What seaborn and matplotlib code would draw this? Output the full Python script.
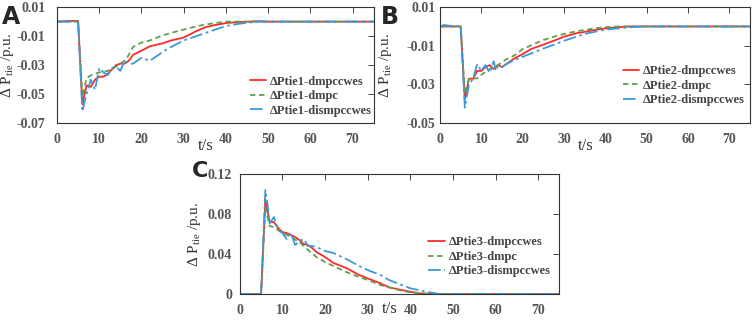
import numpy as np
import pandas as pd
import matplotlib
matplotlib.use("Agg")
import matplotlib.pyplot as plt
import seaborn as sns

sns.set_style("white")
plt.rcParams['font.family'] = ['Liberation Serif', 'DejaVu Serif']
plt.rcParams['mathtext.fontset'] = 'custom'
plt.rcParams['mathtext.rm'] = 'Liberation Serif'
plt.rcParams['mathtext.it'] = 'Liberation Serif'

# ---------------- data ----------------
# Panel A (tie1)
tA_red = [0, 3, 5, 6, 7, 8, 9, 10, 11, 12, 13, 14, 15, 16, 17, 18, 20, 22, 25, 27, 30, 31, 33, 35, 37, 40, 43, 48, 50, 75]
yA_red = [0, 0.0005, 0.0005, -0.057, -0.044, -0.045, -0.040, -0.038, -0.038, -0.036, -0.033, -0.030, -0.029, -0.029,
          -0.027, -0.023, -0.020, -0.017, -0.015, -0.013, -0.011, -0.0095, -0.0065, -0.004, -0.0026, -0.001, -0.0003,
          0.0003, 0, 0]
tA_grn = [0, 5, 6, 7, 8, 9, 10, 12, 14, 16, 17, 18, 20, 22, 25, 28, 30, 32, 35, 38, 40, 75]
yA_grn = [0, 0, -0.052, -0.039, -0.037, -0.036, -0.035, -0.034, -0.031, -0.027, -0.023, -0.0175, -0.0145, -0.013,
          -0.0095, -0.007, -0.0055, -0.004, -0.002, -0.0008, 0, 0]
tA_blu = [0, 5, 6, 7, 8, 9, 10, 11, 12, 13, 14, 15, 16, 17, 18, 19, 20, 22, 24, 26, 28, 30, 33, 35, 38, 40, 43, 46, 48, 75]
yA_blu = [0, 0, -0.062, -0.050, -0.040, -0.047, -0.032, -0.035, -0.037, -0.032, -0.031, -0.034, -0.027, -0.029,
          -0.029, -0.027, -0.025, -0.027, -0.023, -0.019, -0.016, -0.013, -0.010, -0.008, -0.005, -0.003, -0.0015,
          -0.0005, 0, 0]

# Panel B (tie2)
tB_red = [0, 5, 6, 7, 8, 9, 10, 11, 12, 13, 14, 15, 16, 17, 18, 20, 22, 25, 28, 30, 33, 35, 38, 40, 43, 46, 75]
yB_red = [0, 0, -0.0377, -0.027, -0.027, -0.023, -0.023, -0.021, -0.020, -0.022, -0.020, -0.021, -0.0195, -0.018,
          -0.0165, -0.0143, -0.0117, -0.0094, -0.007, -0.0053, -0.0035, -0.0028, -0.0016, -0.001, -0.0004, 0, 0]
tB_grn = [0, 5, 6, 7, 8, 9, 10, 12, 14, 16, 18, 20, 22, 25, 28, 30, 33, 35, 38, 40, 43, 75]
yB_grn = [0, 0, -0.035, -0.027, -0.027, -0.0268, -0.025, -0.022, -0.020, -0.017, -0.015, -0.0117, -0.0098, -0.007,
          -0.005, -0.0039, -0.0025, -0.0018, -0.0009, -0.0004, 0, 0]
tB_blu = [0, 1, 2, 5, 6, 7, 8, 9, 10, 11, 12, 13, 13.5, 14, 15, 16, 18, 20, 22, 25, 28, 30, 33, 35, 38, 40, 43, 46, 50, 75]
yB_blu = [0, 0.0008, 0.0004, 0, -0.042, -0.030, -0.027, -0.0195, -0.023, -0.020, -0.024, -0.018, -0.023, -0.0205,
          -0.021, -0.0195, -0.0174, -0.0157, -0.014, -0.0114, -0.0091, -0.0074, -0.0053, -0.0039, -0.0025, -0.0016,
          -0.001, -0.0004, 0, 0]

# Panel C (tie3)
tC_red = [0, 5, 6, 7, 8, 9, 10, 11, 12, 13, 14, 15, 16, 17, 18, 20, 22, 25, 28, 30, 33, 35, 38, 40, 42, 45, 75]
yC_red = [0, 0, 0.0947, 0.072, 0.072, 0.066, 0.062, 0.061, 0.059, 0.057, 0.054, 0.050, 0.049, 0.046, 0.042, 0.037,
          0.031, 0.026, 0.019, 0.0157, 0.0107, 0.0067, 0.004, 0.0023, 0.0007, 0, 0]
tC_grn = [0, 5, 6, 7, 8, 9, 10, 12, 14, 16, 18, 20, 22, 25, 28, 30, 33, 35, 38, 40, 43, 45, 75]
yC_grn = [0, 0, 0.087, 0.068, 0.067, 0.064, 0.061, 0.057, 0.052, 0.044, 0.037, 0.032, 0.028, 0.022, 0.017, 0.014,
          0.009, 0.0067, 0.0033, 0.0017, 0.0007, 0, 0]
tC_blu = [0, 5, 6, 6.5, 7, 8, 9, 10, 11, 12, 13, 14, 15, 16, 17, 18, 20, 22, 23, 25, 28, 30, 33, 35, 38, 40, 43, 45, 47, 75]
yC_blu = [0, 0, 0.104, 0.090, 0.0707, 0.077, 0.064, 0.061, 0.055, 0.061, 0.049, 0.053, 0.055, 0.048, 0.048, 0.047,
          0.043, 0.041, 0.039, 0.035, 0.028, 0.024, 0.019, 0.014, 0.009, 0.0057, 0.003, 0.0013, 0, 0]

labels_A = ["ΔPtie1-dmpccwes", "ΔPtie1-dmpc", "ΔPtie1-dismpccwes"]
labels_B = ["ΔPtie2-dmpccwes", "ΔPtie2-dmpc", "ΔPtie2-dismpccwes"]
labels_C = ["ΔPtie3-dmpccwes", "ΔPtie3-dmpc", "ΔPtie3-dismpccwes"]

xticks = [0, 10, 20, 30, 40, 50, 60, 70]
yticks_A = [0.01, -0.01, -0.03, -0.05, -0.07]
yticks_B = [0.01, -0.01, -0.03, -0.05]
yticks_C = [0, 0.04, 0.08, 0.12]

# ---------------- style ----------------
RED = "#ff2a2a"
GRN = "#5fa04a"
BLU = "#3a9ad9"
TICKC = "#555555"

fig = plt.figure(figsize=(7.54, 3.24), dpi=100)
axA = fig.add_axes([0.0756, 0.620, 0.420, 0.358])
axB = fig.add_axes([0.5836, 0.620, 0.411, 0.358])
axC = fig.add_axes([0.318, 0.0926, 0.424, 0.370])


def draw(ax, series, labels, yticks, ylim, leg_anchor, xlab_y, ylab_x, ypad):
    styles = [(RED, None), (GRN, (3, 2)), (BLU, (7, 2, 1.5, 2))]
    for (t, y), lab, (c, d) in zip(series, labels, styles):
        df = pd.DataFrame({"t": t, "v": y})
        sns.lineplot(data=df, x="t", y="v", ax=ax, color=c, lw=1.3, label=lab)
        if d is not None:
            ax.lines[-1].set_dashes(d)
    ax.set_xlim(0, 75)
    ax.set_ylim(*ylim)
    ax.set_xticks(xticks)
    ax.set_yticks(yticks)
    ax.set_yticklabels([("%g" % v) if v != 0 else "0" for v in yticks])
    ax.tick_params(direction="in", top=True, right=True, length=4, width=0.7,
                   labelsize=10, labelcolor=TICKC, colors="#444444")
    ax.tick_params(axis="y", pad=ypad)
    ax.tick_params(axis="x", pad=7)
    for lab in ax.get_xticklabels() + ax.get_yticklabels():
        lab.set_fontweight("bold")
    for s in ax.spines.values():
        s.set_color("#333333")
        s.set_linewidth(0.8)
    ax.set_xlabel("t/s", fontsize=12, color="#333333")
    ax.xaxis.set_label_coords(0.47, xlab_y)
    ax.set_ylabel(r"Δ P$_{\mathrm{tie}}$ /p.u.", fontsize=11, color="#333333")
    ax.yaxis.set_label_coords(ylab_x, 0.5)
    leg = ax.legend(loc="upper left", bbox_to_anchor=leg_anchor, frameon=False,
                    handlelength=1.3, handletextpad=0.3, labelspacing=0.2,
                    borderpad=0, borderaxespad=0,
                    prop={"family": "Liberation Serif", "weight": "bold", "size": 9})
    for txt in leg.get_texts():
        txt.set_color("#444444")


draw(axA, [(tA_red, yA_red), (tA_grn, yA_grn), (tA_blu, yA_blu)], labels_A,
     yticks_A, (-0.07, 0.01), (0.61, 0.41), -0.13, -0.13, 8.5)
draw(axB, [(tB_red, yB_red), (tB_grn, yB_grn), (tB_blu, yB_blu)], labels_B,
     yticks_B, (-0.05, 0.01), (0.59, 0.50), -0.13, -0.148, 3.5)
draw(axC, [(tC_red, yC_red), (tC_grn, yC_grn), (tC_blu, yC_blu)], labels_C,
     yticks_C, (0, 0.12), (0.59, 0.48), -0.06, -0.115, 5.5)

fig.text(0.003, 0.985, "A", fontsize=17, fontweight="bold", family="DejaVu Sans", va="top", ha="left")
fig.text(0.505, 0.985, "B", fontsize=17, fontweight="bold", family="DejaVu Sans", va="top", ha="left")
fig.text(0.254, 0.503, "C", fontsize=16, fontweight="bold", family="DejaVu Sans", va="top", ha="left")

fig.savefig("out.png", dpi=100)
